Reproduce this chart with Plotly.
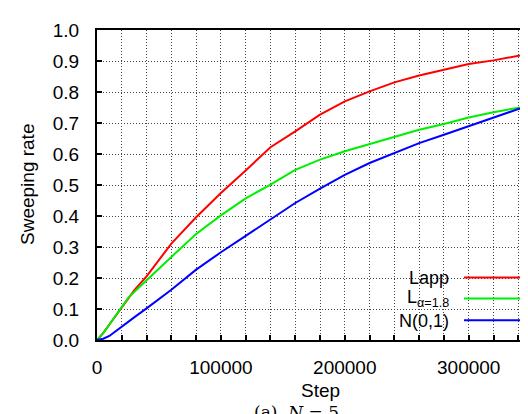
import plotly.graph_objects as go

steps = [0, 5000, 10000, 20000, 25000, 30000, 40000, 50000, 60000, 80000, 100000,
         120000, 140000, 160000, 180000, 200000, 220000, 240000, 260000, 280000,
         300000, 320000, 340000, 354000]
lapp = [0, 0.022, 0.05, 0.107, 0.135, 0.16, 0.205, 0.258, 0.311, 0.396, 0.474,
        0.547, 0.622, 0.673, 0.727, 0.770, 0.802, 0.831, 0.853, 0.872, 0.890,
        0.902, 0.917, 0.927]
levy = [0, 0.022, 0.05, 0.107, 0.135, 0.155, 0.193, 0.232, 0.268, 0.342, 0.402,
        0.457, 0.501, 0.549, 0.582, 0.609, 0.632, 0.657, 0.678, 0.697, 0.718,
        0.735, 0.748, 0.759]
gauss = [0, 0.004, 0.013, 0.044, 0.058, 0.073, 0.102, 0.132, 0.162, 0.227, 0.283,
         0.336, 0.388, 0.442, 0.488, 0.533, 0.571, 0.603, 0.635, 0.662, 0.689,
         0.718, 0.745, 0.759]

names = ["Lapp", "L<sub>α=1.8</sub>", "N(0,1)"]
colors = ["#ff0000", "#00ee00", "#0000ff"]
series = [lapp, levy, gauss]

fig = go.Figure()
for nm, col, ys in zip(names, colors, series):
    fig.add_trace(go.Scatter(x=steps, y=ys, mode="lines", name=nm,
                             line=dict(color=col, width=2), showlegend=False))

W, H = 528, 414
L, T, B = 89, 22, 82
pw = W - L
ph = H - T - B


def px_x(p):
    return (p - L) / pw


def px_y(p):
    return (H - B - p) / ph


grid = dict(showgrid=True, gridcolor="#444", gridwidth=1, griddash="1px,2px")
font = dict(family="Liberation Sans, Arial, sans-serif", size=19, color="black")
legfont = dict(family="Liberation Sans, Arial, sans-serif", size=18, color="black")

fig.update_xaxes(range=[0, 354300], tickmode="linear", tick0=0, dtick=100000,
                 tickformat="d", ticks="inside", ticklen=5, tickwidth=1.5, tickcolor="black",
                 showline=True, linecolor="black", linewidth=2, mirror=True,
                 zeroline=False, ticklabelstandoff=9, tickfont=font,
                 minor=dict(dtick=20000, ticks="inside", ticklen=5, tickcolor="black",
                            showgrid=True, gridcolor="#444", gridwidth=1, griddash="1px,2px"),
                 **grid)
fig.update_yaxes(range=[0, 1], tickmode="linear", tick0=0, dtick=0.1, tickformat=".1f",
                 ticks="inside", ticklen=5, tickwidth=1.5, tickcolor="black",
                 showline=True, linecolor="black", linewidth=2, mirror=False,
                 zeroline=False, ticklabelstandoff=12, tickfont=font, **grid)

# legend background box (in data coords so it sits above the grid)
fig.add_shape(type="rect", xref="x", yref="y", x0=229300, x1=350000, y0=0.023, y1=0.242,
              fillcolor="white", line=dict(width=0), layer="below")

text_y = [269.5, 290, 312.5]
line_y = [269.5, 290.5, 312.3]
for nm, col, ty, ly in zip(names, colors, text_y, line_y):
    fig.add_annotation(x=px_x(443), y=px_y(ty), xref="paper", yref="paper", text=nm,
                       showarrow=False, xanchor="right", yanchor="middle", font=legfont)
    fig.add_shape(type="line", xref="paper", yref="paper", x0=px_x(456), x1=px_x(512),
                  y0=px_y(ly), y1=px_y(ly), line=dict(color=col, width=2))

fig.add_annotation(x=px_x(19), y=0.5, xref="paper", yref="paper", text="Sweeping rate",
                   textangle=-90, showarrow=False, xanchor="center", yanchor="middle", font=font)
fig.add_annotation(x=px_x(312), y=px_y(382), xref="paper", yref="paper", text="Step",
                   showarrow=False, xanchor="center", yanchor="middle", font=font)
fig.add_annotation(x=px_x(288), y=px_y(404), xref="paper", yref="paper",
                   text="(a)  <i>N</i> = 5", showarrow=False, xanchor="center", yanchor="middle",
                   font=dict(family="DejaVu Serif, Liberation Serif, serif", size=17, color="black"))

fig.update_layout(width=W, height=H, margin=dict(l=L, r=0, t=T, b=B, pad=0),
                  plot_bgcolor="white", paper_bgcolor="white", showlegend=False)

fig.write_html("out.html")
